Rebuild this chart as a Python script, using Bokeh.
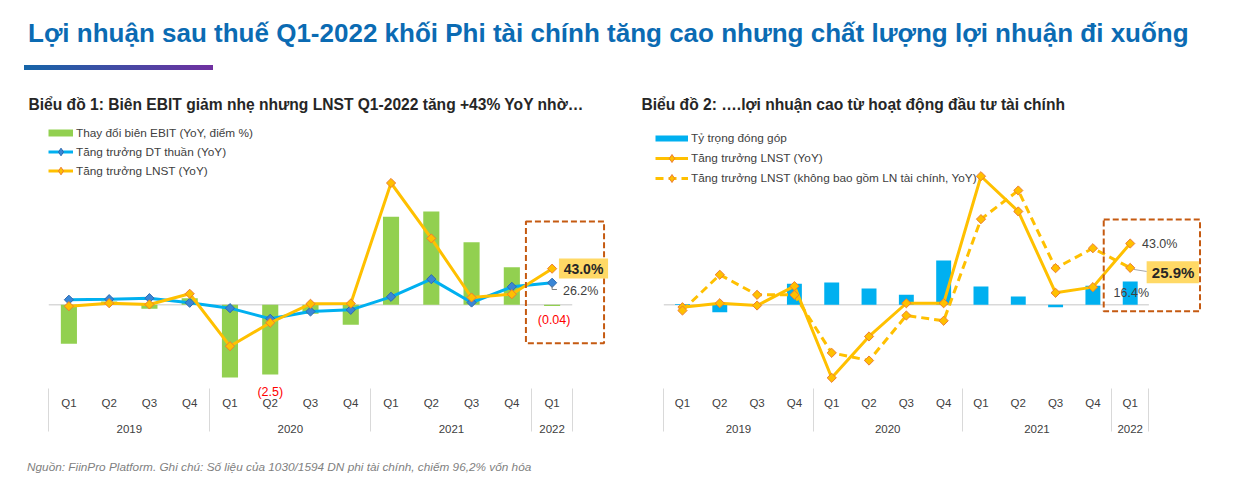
from bokeh.plotting import figure
from bokeh.models import (FactorRange, Range1d, ColumnDataSource, Legend, LegendItem,
                          CategoricalAxis, Div)
from bokeh.layouts import column, row
from bokeh.embed import file_html
from bokeh.resources import INLINE
from bokeh.core.properties import value

NAN = float("nan")

# ---------------- data ----------------
years = ["2019"] * 4 + ["2020"] * 4 + ["2021"] * 4 + ["2022"]
quarters = ["Q1", "Q2", "Q3", "Q4"] * 3 + ["Q1"]

# Chart 1
ebit_margin_change = [-1.39, 0.12, -0.14, 0.24, -2.60, -2.50, -0.32, -0.71, 3.16, 3.35, 2.24, 1.35, -0.04]
revenue_growth = [6.0, 6.7, 7.9, 2.4, -4.0, -16.7, -8.0, -6.0, 9.5, 30.5, 2.7, 21.4, 26.2]
npat_growth = [-1.7, 1.9, 0.4, 13.1, -49.3, -21.4, 1.2, 1.5, 145.0, 79.0, 8.7, 12.6, 43.0]

# Chart 2
fin_contribution = [0.5, -5.2, 0.0, 14.7, 15.6, 11.4, 7.0, 31.1, 12.8, 5.8, -1.7, 13.3, 16.4]
npat_growth_2 = [-1.7, 1.1, -0.5, 13.1, -51.2, -22.2, 1.1, 1.1, 90.2, 65.5, 8.4, 12.4, 43.0]
npat_growth_ex_fin = [-4.0, 21.1, 7.0, 7.0, -33.7, -39.1, -7.5, -11.2, 60.1, 80.2, 25.7, 39.7, 25.9]

title_main = "Lợi nhuận sau thuế Q1-2022 khối Phi tài chính tăng cao nhưng chất lượng lợi nhuận đi xuống"
title_1 = "Biểu đồ 1: Biên EBIT giảm nhẹ nhưng LNST Q1-2022 tăng +43% YoY nhờ…"
title_2 = "Biểu đồ 2: ….lợi nhuận cao từ hoạt động đầu tư tài chính"
legend_1 = ["Thay đổi biên EBIT (YoY, điểm %)", "Tăng trưởng DT thuần (YoY)", "Tăng trưởng LNST (YoY)"]
legend_2 = ["Tỷ trọng đóng góp", "Tăng trưởng LNST (YoY)",
            "Tăng trưởng LNST (không bao gồm LN tài chính, YoY)"]
footnote = "Nguồn: FiinPro Platform. Ghi chú: Số liệu của 1030/1594 DN phi tài chính, chiếm 96,2% vốn hóa"

# ---------------- styles ----------------
FONT = "Liberation Sans"
GREEN = "#92D050"
BLUE = "#00B0F0"
YELLOW = "#FFC000"
ORANGE_EDGE = "#ED7D31"
BOX = "#C55A11"
HIGHLIGHT = "#FFD966"
GREY_TXT = "#404040"

real = list(zip(years, quarters))
last = real[-1]


def off(f, d):
    return (f[0], f[1], d)


def base_fig(factors, frame_w, yr, title, mbl, toff):
    p = figure(x_range=FactorRange(factors=factors, factor_padding=0, group_padding=0,
                                   subgroup_padding=0, range_padding=0),
               y_range=yr, frame_width=frame_w, frame_height=267,
               output_backend="svg", toolbar_location=None, y_axis_location=None,
               title=title, min_border_left=mbl, min_border_right=0,
               min_border_top=0, min_border_bottom=0)
    p.outline_line_color = None
    p.grid.visible = False
    p.title.text_font = FONT
    p.title.text_font_size = "15.6px"
    p.title.text_font_style = "bold"
    p.title.text_color = "#262626"
    p.title.offset = toff
    p.title.standoff = 12
    ax = p.xaxis[0]
    ax.axis_line_color = None
    ax.major_tick_line_color = None
    ax.minor_tick_line_color = None
    ax.major_tick_in = 0
    ax.major_tick_out = 0
    ax.major_label_text_font = FONT
    ax.major_label_text_font_size = "11.5px"
    ax.major_label_text_color = GREY_TXT
    ax.group_text_font = FONT
    ax.group_text_font_size = "11.5px"
    ax.group_text_font_style = "normal"
    ax.group_text_color = GREY_TXT
    ax.separator_line_color = "#D9D9D9"
    ax.separator_line_width = 1
    ax.major_label_standoff = 11
    return p


def diamonds(p, x, y, src, fill, edge, **kw):
    return p.scatter(x=x, y=y, source=src, marker="square", angle=0.785398, size=6.5,
                     fill_color=fill, line_color=edge, line_width=1, **kw)


def legend_marker(p, fill, edge, **kw):
    return p.scatter(x=[real[0]], y=[NAN], marker="diamond", size=9,
                     fill_color=fill, line_color=edge, line_width=1, **kw)


# ================= Chart 1 =================
fac1 = [(" ", " ")] + real + [("  ", "  ")]
p1 = base_fig(fac1, 604, Range1d(-96.1, 221.8), title_1, 8, 20)
p1.extra_y_ranges = {"bar": Range1d(-2.89, 6.68)}

src1 = ColumnDataSource(dict(x=real, ebit=ebit_margin_change, dt=revenue_growth, ln=npat_growth))

p1.segment(x0=[off(real[0], -0.5)], x1=[off(last, 0.5)], y0=[0], y1=[0],
           line_color="#D9D9D9", line_width=1.5)
p1.vbar(x="x", top="ebit", width=0.4, source=src1, y_range_name="bar",
        fill_color=GREEN, line_color=None)
dt_line = p1.line(x="x", y="dt", source=src1, line_color=BLUE, line_width=3)
dt_pts = diamonds(p1, "x", "dt", src1, "#3A86D6", "#2C6AB0")
ln_line = p1.line(x="x", y="ln", source=src1, line_color=YELLOW, line_width=3)
ln_pts = diamonds(p1, "x", "ln", src1, YELLOW, ORANGE_EDGE)

# annotation box + labels
p1.quad(left=[off(last, -0.65)], right=[off(last, 1.29)], top=[99.2], bottom=[-45.7],
        fill_color=None, line_color=BOX, line_width=2, line_dash="6 3")
p1.quad(left=[off(last, 0.17)], right=[off(last, 1.39)], top=[55.1], bottom=[31.3],
        fill_color=HIGHLIGHT, line_color=None)
p1.line(x=[off(last, 0.0), off(last, 0.0), off(last, 0.12)], y=[22.5, 18.2, 18.2],
        line_color="#7F7F7F", line_width=1)
lab1 = ColumnDataSource(dict(
    x=[off(last, 0.78), off(last, 0.71), off(last, 0.05)],
    y=[43.2, 17.0, -18.7],
    t=[f"{npat_growth[-1]:.1f}%", f"{revenue_growth[-1]:.1f}%", f"({abs(ebit_margin_change[-1]):.2f})"],
    c=["#262626", GREY_TXT, "#FF0000"],
    s=["14px", "12.5px", "12.5px"],
    w=["bold", "normal", "normal"],
))
p1.text(x="x", y="y", text="t", source=lab1, text_color="c", text_font_size="s",
        text_font_style="w", text_font=value(FONT), text_align="center", text_baseline="middle")

# red "(2.5)" value label for Q2-2020: a second categorical axis whose only
# visible factor is the label, pulled up over the category band (not clipped)
q2_2020 = ("2020", "Q2")
q2_idx = fac1.index(q2_2020)
red_label = f"({abs(ebit_margin_change[real.index(q2_2020)]):.1f})"
lbl_factors = [red_label if i == q2_idx else " " * (i + 1) for i in range(len(fac1))]
p1.extra_x_ranges = {"lbl": FactorRange(factors=lbl_factors, factor_padding=0, range_padding=0)}
lbl_axis = CategoricalAxis(x_range_name="lbl",
                           axis_line_color=None, major_tick_line_color=None, minor_tick_line_color=None,
                           major_tick_in=0, major_tick_out=0, major_label_standoff=-53,
                           major_label_text_font=FONT, major_label_text_font_size="12.5px",
                           major_label_text_color="#FF0000")
p1.add_layout(lbl_axis, "below")

dummy_green = p1.line(x=[real[0], real[1]], y=[NAN, NAN], line_color=GREEN, line_width=7)
lm_dt = legend_marker(p1, "#3A86D6", "#2C6AB0")
lm_ln = legend_marker(p1, YELLOW, ORANGE_EDGE)
leg1 = Legend(items=[LegendItem(label=legend_1[0], renderers=[dummy_green]),
                     LegendItem(label=legend_1[1], renderers=[dt_line, lm_dt]),
                     LegendItem(label=legend_1[2], renderers=[ln_line, lm_ln])],
              location=(40, 205), padding=0, margin=0, spacing=0,
              glyph_width=25, glyph_height=19, label_height=19, label_standoff=3,
              label_text_font=FONT, label_text_font_size="11.8px", label_text_color=GREY_TXT,
              border_line_color=None, background_fill_alpha=0)
p1.add_layout(leg1)

# ================= Chart 2 =================
fac2 = [(" ", " ")] + real + [("  ", " "), ("  ", "  ")]
p2 = base_fig(fac2, 597, Range1d(-56.6, 130.7), title_2, 14, 15)

src2 = ColumnDataSource(dict(x=real, fin=fin_contribution, ln=npat_growth_2, ex=npat_growth_ex_fin))
p2.segment(x0=[off(real[0], -0.5)], x1=[off(last, 0.5)], y0=[0], y1=[0],
           line_color="#D9D9D9", line_width=1.5)
p2.vbar(x="x", top="fin", width=0.4, source=src2, fill_color=BLUE, line_color=None)
l2 = p2.line(x="x", y="ln", source=src2, line_color=YELLOW, line_width=3)
diamonds(p2, "x", "ln", src2, YELLOW, ORANGE_EDGE)
l3 = p2.line(x="x", y="ex", source=src2, line_color=YELLOW, line_width=3, line_dash="8 5")
diamonds(p2, "x", "ex", src2, YELLOW, ORANGE_EDGE)

p2.quad(left=[off(last, -0.71)], right=[off(last, 1.87)], top=[59.9], bottom=[-4.5],
        fill_color=None, line_color=BOX, line_width=2, line_dash="6 3")
p2.quad(left=[off(last, 0.44)], right=[off(last, 1.84)], top=[30.6], bottom=[15.2],
        fill_color=HIGHLIGHT, line_color=None)
p2.line(x=[off(last, 0.10), off(last, 0.44)], y=[24.8, 23.4], line_color="#A6A6A6", line_width=1)
lab2 = ColumnDataSource(dict(
    x=[off(last, 0.79), off(last, 1.15), off(last, 0.03)],
    y=[43.0, 22.7, 8.6],
    t=[f"{npat_growth_2[-1]:.1f}%", f"{npat_growth_ex_fin[-1]:.1f}%", f"{fin_contribution[-1]:.1f}%"],
    c=[GREY_TXT, "#262626", GREY_TXT],
    s=["12.5px", "15px", "12.5px"],
    w=["normal", "bold", "normal"],
))
p2.text(x="x", y="y", text="t", source=lab2, text_color="c", text_font_size="s",
        text_font_style="w", text_font=value(FONT), text_align="center", text_baseline="middle")

dummy_blue = p2.line(x=[real[0], real[1]], y=[NAN, NAN], line_color=BLUE, line_width=6)
lm2 = legend_marker(p2, YELLOW, ORANGE_EDGE)
lm3 = legend_marker(p2, YELLOW, ORANGE_EDGE)
leg2 = Legend(items=[LegendItem(label=legend_2[0], renderers=[dummy_blue]),
                     LegendItem(label=legend_2[1], renderers=[l2, lm2]),
                     LegendItem(label=legend_2[2], renderers=[l3, lm3])],
              location=(29, 197), padding=0, margin=0, spacing=0,
              glyph_width=33, glyph_height=20, label_height=20, label_standoff=3,
              label_text_font=FONT, label_text_font_size="11.8px", label_text_color=GREY_TXT,
              border_line_color=None, background_fill_alpha=0)
p2.add_layout(leg2)

# ================= header / footer =================
header = Div(text=(
    f'<div style="position:relative;width:1243px;height:87px;font-family:\'{FONT}\',Arial,sans-serif;">'
    f'<div style="position:absolute;left:28px;top:20px;font-size:26px;font-weight:bold;'
    f'color:#0B6BB3;line-height:1;white-space:nowrap;">{title_main}</div>'
    f'<div style="position:absolute;left:24px;top:65px;width:189px;height:5px;'
    f'background:linear-gradient(to right,#1565A8,#7030A0);"></div></div>'),
    width=1243, height=87, margin=0)

footer = Div(text=(
    f'<div style="position:relative;width:1243px;height:40px;font-family:\'{FONT}\',Arial,sans-serif;">'
    f'<div style="position:absolute;left:27px;top:25px;font-size:11.8px;font-style:italic;'
    f'color:#7F7F7F;line-height:1;white-space:nowrap;">{footnote}</div></div>'),
    width=1243, height=40, margin=0)

layout = column(header, row(p1, p2), footer)
open("out.html", "w").write(file_html(layout, INLINE))
